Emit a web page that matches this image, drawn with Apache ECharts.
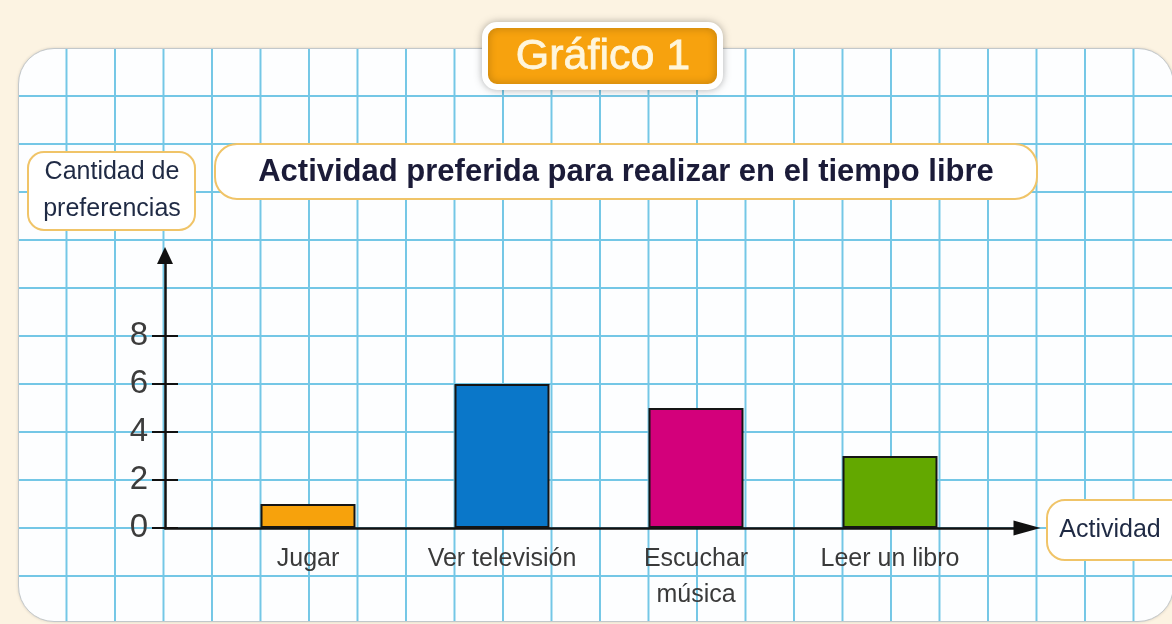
<!DOCTYPE html>
<html>
<head>
<meta charset="utf-8">
<script src="https://cdn.jsdelivr.net/npm/echarts@6/dist/echarts.min.js"></script>
<style>
  html, body { margin: 0; padding: 0; background: #fcf3e2; }
  #wrap { position: relative; width: 1172px; height: 624px; overflow: hidden; }
  #card {
    position: absolute; left: 18px; top: 48px; width: 1156px; height: 574px;
    box-sizing: border-box; border: 1.5px solid #c3c8cb; border-radius: 36px;
    background-color: #fdfeff;
    background-image: linear-gradient(to right, #74c7e6 2px, transparent 2px),
                      linear-gradient(to bottom, #74c7e6 2px, transparent 2px);
    background-size: 48.5px 48px;
    background-origin: border-box;
    background-position: -1px -1px;
    box-shadow: 0 0 3px rgba(0,0,0,0.15);
  }
  #chart { position: absolute; left: 0; top: 0; width: 1172px; height: 624px; }
</style>
</head>
<body>
<div id="wrap">
  <div id="card"></div>
  <div id="chart"></div>
</div>
<script>
// datos
const categories = ['Jugar', 'Ver televisión', 'Escuchar\nmúsica', 'Leer un libro']
const preferencias = [1, 6, 5, 3]
const yTicks = [0, 2, 4, 6, 8]

const barColors = ['#f7a20c', '#0a77c9', '#d3007b', '#63a800']
const font = '"Liberation Sans", Arial, sans-serif'

// escala vertical: 24 px por unidad, 0 en y=528
const yMaxBars = 11.7
const yMaxAxis = 11.35

const chart = echarts.init(document.getElementById('chart'), null, { renderer: 'canvas' })

const option = {
  backgroundColor: 'transparent',
  animation: false,
  grid: [
    // barras
    { left: 211, right: 185, top: 247.2, bottom: 96 },
    // ejes con flechas
    { left: 165, right: 145, top: 255.6, bottom: 96 }
  ],
  xAxis: [
    {
      type: 'category',
      gridIndex: 0,
      data: categories,
      axisLine: { show: false },
      axisTick: { show: false },
      axisLabel: {
        margin: 13,
        fontFamily: font,
        fontSize: 25,
        lineHeight: 36,
        color: '#3a3a3a'
      }
    },
    {
      type: 'value',
      gridIndex: 1,
      min: 0,
      max: 1,
      axisLine: {
        show: true,
        symbol: ['none', 'triangle'],
        symbolSize: [15, 27],
        lineStyle: { color: '#111', width: 2.5 }
      },
      axisTick: { show: false },
      axisLabel: { show: false },
      splitLine: { show: false }
    }
  ],
  yAxis: [
    {
      type: 'value',
      gridIndex: 0,
      min: 0,
      max: yMaxBars,
      show: false
    },
    {
      type: 'value',
      gridIndex: 1,
      position: 'left',
      min: 0,
      max: yMaxAxis,
      interval: 2,
      axisLine: {
        show: true,
        symbol: ['none', 'triangle'],
        symbolSize: [16, 17],
        lineStyle: { color: '#111', width: 2.5 }
      },
      axisTick: { show: false },
      axisLabel: {
        customValues: yTicks,
        margin: 17,
        fontFamily: font,
        fontSize: 33,
        color: '#3c3c3c'
      },
      splitLine: { show: false }
    },
    {
      // marcas que cruzan el eje
      type: 'value',
      gridIndex: 1,
      position: 'left',
      offset: -13,
      min: 0,
      max: yMaxAxis,
      interval: 2,
      axisLine: { show: false },
      axisTick: {
        show: true,
        customValues: yTicks,
        length: 26,
        lineStyle: { color: '#111', width: 2 }
      },
      axisLabel: { show: false },
      splitLine: { show: false }
    }
  ],
  series: [
    {
      type: 'bar',
      xAxisIndex: 0,
      yAxisIndex: 0,
      barWidth: 95,
      data: preferencias.map((v, i) => ({
        value: v,
        itemStyle: { color: barColors[i] }
      })),
      itemStyle: { borderColor: '#151515', borderWidth: 2 }
    }
  ],
  graphic: [
    // Gráfico 1
    {
      type: 'rect',
      shape: { x: 485, y: 25, width: 235, height: 62, r: 12 },
      style: {
        fill: '#f7a20e', stroke: '#ffffff', lineWidth: 6,
        shadowBlur: 8, shadowColor: 'rgba(0,0,0,0.25)'
      },
      z: 10
    },
    {
      type: 'text',
      x: 603, y: 57,
      style: {
        text: 'Gráfico 1',
        font: '43px ' + font,
        fill: '#fff6dc',
        stroke: '#fff6dc',
        lineWidth: 0.8,
        align: 'center',
        verticalAlign: 'middle'
      },
      z: 11
    },
    // título
    {
      type: 'rect',
      shape: { x: 215, y: 144, width: 822, height: 55, r: 22 },
      style: { fill: '#ffffff', stroke: '#f0c468', lineWidth: 2 },
      z: 10
    },
    {
      type: 'text',
      x: 626, y: 172,
      style: {
        text: 'Actividad preferida para realizar en el tiempo libre',
        font: 'bold 31px ' + font,
        fill: '#1b1b38',
        align: 'center',
        verticalAlign: 'middle'
      },
      z: 11
    },
    // nombre eje y
    {
      type: 'rect',
      shape: { x: 28, y: 152, width: 167, height: 78, r: 16 },
      style: { fill: '#ffffff', stroke: '#f0c468', lineWidth: 2 },
      z: 10
    },
    {
      type: 'text',
      x: 112, y: 191,
      style: {
        text: 'Cantidad de\npreferencias',
        font: '25px ' + font,
        lineHeight: 37,
        fill: '#1f2a44',
        align: 'center',
        verticalAlign: 'middle'
      },
      z: 11
    },
    // nombre eje x
    {
      type: 'rect',
      shape: { x: 1047, y: 500, width: 150, height: 60, r: 18 },
      style: { fill: '#ffffff', stroke: '#f0c468', lineWidth: 2 },
      z: 10
    },
    {
      type: 'text',
      x: 1110, y: 530,
      style: {
        text: 'Actividad',
        font: '25px ' + font,
        fill: '#1f2a44',
        align: 'center',
        verticalAlign: 'middle'
      },
      z: 11
    }
  ]
}

chart.setOption(option)
</script>
</body>
</html>
